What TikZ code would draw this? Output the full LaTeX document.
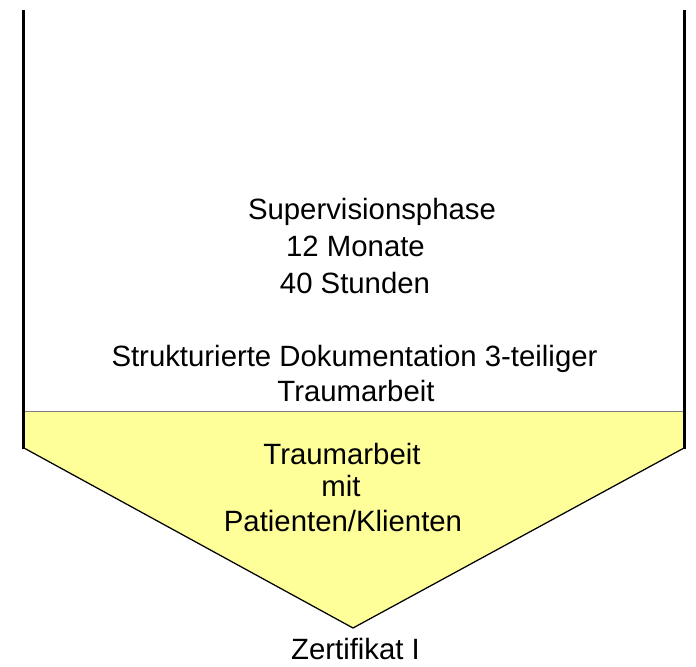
\documentclass[tikz,border=0pt]{standalone}
\usepackage{fontspec}
\setmainfont{Liberation Sans}
\usepackage{tikz}
\definecolor{paleyellow}{RGB}{255,255,153}

\begin{document}
\begin{tikzpicture}[x = 0.02cm, y = -0.02cm,
                        txt/.style = {anchor = base, inner sep = 0pt, font = \fontsize{16.7}{20}\selectfont},
                        wall/.style = {line width = 0.06cm},
                        rim/.style = {line width = 0.025cm}]
      \useasboundingbox (0, 0) rectangle (696, 666);

      % funnel
      \fill [paleyellow] (25, 411) -- (683, 411) -- (683, 448) -- (353, 628) -- (25, 448) -- cycle;
      \draw [gray, line width = 0.4pt] (25, 411) -- (683, 411);
      \draw [rim] (24, 448) -- (353, 628) -- (684, 448);
      \draw [wall] (23.5, 10) -- (23.5, 449);
      \draw [wall] (684.5, 10) -- (684.5, 449);

      \node [txt] (phase) at (372, 219){Supervisionsphase};
      \node [txt] (monate) at (355.5, 256){12 Monate};
      \node [txt] (stunden) at (355, 293){40 Stunden};
      \node [txt] (doku) at (354.5, 366){Strukturierte Dokumentation 3-teiliger};
      \node [txt] (arbeit) at (356, 401){Traumarbeit};

      \node [txt] (trauma) at (342, 464){Traumarbeit};
      \node [txt] (mit) at (341, 496){mit};
      \node [txt] (klienten) at (343, 531){Patienten/Klienten};

      \node [txt] (zert) at (355.5, 659){Zertifikat I};
      \end{tikzpicture}
\end{document}
